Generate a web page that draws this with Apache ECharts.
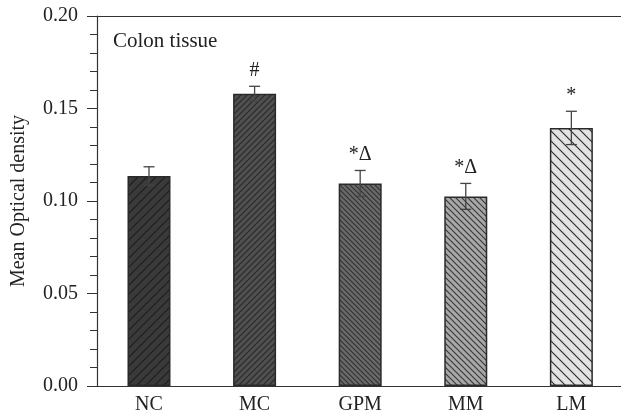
<!DOCTYPE html>
<html>
<head>
<meta charset="utf-8">
<script src="https://cdn.jsdelivr.net/npm/echarts@6/dist/echarts.min.js"></script>
<style>html,body{margin:0;padding:0;background:#fff;}#c{width:621px;height:417px;}</style>
</head>
<body>
<div id="c"></div>
<script>
// ---- data ----
const categories = ['NC', 'MC', 'GPM', 'MM', 'LM'];
const positions = [1, 2, 3, 4, 5];
const means = [0.1135, 0.158, 0.1095, 0.1025, 0.1395];
const errors = [0.005, 0.004, 0.007, 0.007, 0.009];
const marks = ['', '#', '*\u0394', '*\u0394', '*'];
const yTicks = [0, 0.05, 0.10, 0.15, 0.20];

// ---- styling ----
const fills = ['#3a3a3a', '#505050', '#6a6a6a', '#a8a8a8', '#e3e3e3'];
const hatchColors = ['#1e1e1e', '#2a2a2a', '#333333', '#3a3a3a', '#2e2e2e'];
const hatchDir = ['/', '/', '\\', '\\', '\\'];
const hatchStep = [9, 6, 5, 6, 10];

function makePattern(bg, fg, dir, s) {
  const c = document.createElement('canvas');
  c.width = s; c.height = s;
  const g = c.getContext('2d');
  g.fillStyle = bg; g.fillRect(0, 0, s, s);
  g.strokeStyle = fg; g.lineWidth = 1.2;
  g.beginPath();
  if (dir === '/') {
    g.moveTo(0, s); g.lineTo(s, 0);
    g.moveTo(-1, 1); g.lineTo(1, -1);
    g.moveTo(s - 1, s + 1); g.lineTo(s + 1, s - 1);
  } else {
    g.moveTo(0, 0); g.lineTo(s, s);
    g.moveTo(-1, s - 1); g.lineTo(1, s + 1);
    g.moveTo(s - 1, -1); g.lineTo(s + 1, 1);
  }
  g.stroke();
  return { image: c, repeat: 'repeat' };
}

const FONT = 'Liberation Serif';
const barData = positions.map((p, i) => ({
  value: [p, means[i]],
  itemStyle: {
    color: makePattern(fills[i], hatchColors[i], hatchDir[i], hatchStep[i]),
    borderColor: '#2a2a2a',
    borderWidth: 1.5
  }
}));
const errData = positions.map((p, i) => [p, means[i] - errors[i], means[i] + errors[i], i]);

const XMIN = 0.5076, XMAX = 5.47;

const chart = echarts.init(document.getElementById('c'), null, { renderer: 'canvas' });
chart.setOption({
  animation: false,
  backgroundColor: '#fff',
  grid: { left: 97, right: 0, top: 16, bottom: 31, show: false },
  xAxis: [{
    type: 'value',
    min: XMIN,
    max: XMAX,
    splitLine: { show: false },
    axisLine: { show: true, onZero: false, lineStyle: { color: '#333', width: 1.2 } },
    axisTick: { show: false },
    axisLabel: {
      customValues: positions,
      formatter: function (v) { const i = positions.indexOf(Math.round(v)); return i >= 0 ? categories[i] : ''; },
      fontFamily: FONT, fontSize: 20, color: '#222', margin: 9
    }
  }, {
    type: 'value', position: 'top',
    min: XMIN, max: XMAX,
    splitLine: { show: false },
    axisLine: { show: true, onZero: false, lineStyle: { color: '#333', width: 1.2 } },
    axisTick: { show: false },
    axisLabel: { show: false }
  }],
  yAxis: {
    type: 'value',
    min: 0, max: 0.2, interval: 0.05,
    name: 'Mean Optical density',
    nameLocation: 'middle',
    nameGap: 68,
    nameTextStyle: { fontFamily: FONT, fontSize: 20, color: '#222' },
    splitLine: { show: false },
    axisLine: { show: true, lineStyle: { color: '#333', width: 1.2 } },
    axisTick: { show: true, inside: false, length: 10, lineStyle: { color: '#333' } },
    minorTick: { show: true, splitNumber: 5, length: 7, lineStyle: { color: '#333' } },
    axisLabel: {
      customValues: yTicks,
      formatter: v => v.toFixed(2),
      fontFamily: FONT, fontSize: 20, color: '#222', margin: 19
    }
  },
  graphic: [{
    type: 'text', left: 113, top: 31,
    style: { text: 'Colon tissue', fontFamily: FONT, fontSize: 21, fill: '#222' }
  }],
  series: [
    { type: 'bar', data: barData, barWidth: 43, z: 2 },
    {
      type: 'custom', z: 3,
      data: errData,
      encode: { x: 0, y: [1, 2] },
      renderItem: function (params, api) {
        const x = api.coord([api.value(0), 0])[0];
        const lo = api.coord([api.value(0), api.value(1)])[1];
        const hi = api.coord([api.value(0), api.value(2)])[1];
        const idx = api.value(3);
        const cw = 5.5;
        const st = { stroke: '#444', lineWidth: 1.3 };
        return {
          type: 'group',
          children: [
            { type: 'line', shape: { x1: x, y1: lo, x2: x, y2: hi }, style: st },
            { type: 'line', shape: { x1: x - cw, y1: hi, x2: x + cw, y2: hi }, style: st },
            { type: 'line', shape: { x1: x - cw, y1: lo, x2: x + cw, y2: lo }, style: st },
            { type: 'text', x: x, y: hi - 6, style: { text: marks[idx], fontFamily: FONT, fontSize: 20, fill: '#222', align: 'center', verticalAlign: 'bottom' } }
          ]
        };
      }
    }
  ]
});
</script>
</body>
</html>
